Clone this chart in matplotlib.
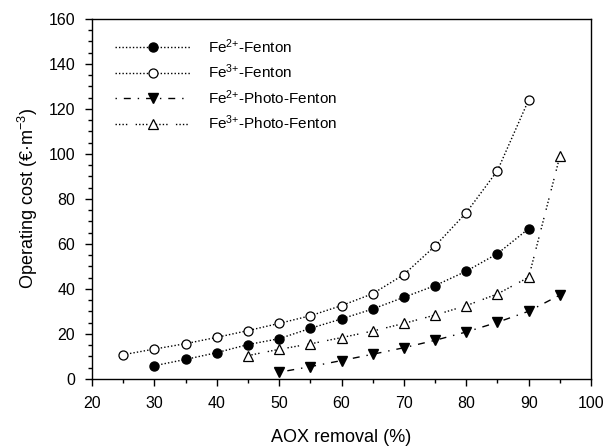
import matplotlib
matplotlib.use('Agg')
from matplotlib import pyplot as plt
from matplotlib.ticker import MultipleLocator

plt.rcParams['font.family'] = ['Liberation Sans', 'DejaVu Sans']
plt.rcParams['mathtext.fontset'] = 'custom'
plt.rcParams['mathtext.rm'] = 'Liberation Sans'
plt.rcParams['mathtext.it'] = 'Liberation Sans'

# AOX removal (%) and operating cost (EUR/m3)
x_fe2_fenton = [30, 35, 40, 45, 50, 55, 60, 65, 70, 75, 80, 85, 90]
y_fe2_fenton = [5.9, 8.7, 11.7, 15.3, 17.9, 22.5, 26.7, 31.1, 36.3, 41.5, 47.9, 55.7, 66.8]

x_fe3_fenton = [25, 30, 35, 40, 45, 50, 55, 60, 65, 70, 75, 80, 85, 90]
y_fe3_fenton = [10.8, 13.3, 15.7, 18.5, 21.5, 24.7, 28.1, 32.6, 37.9, 46.4, 59.1, 73.9, 92.6, 124.0]

x_fe2_photo = [50, 55, 60, 65, 70, 75, 80, 85, 90, 95]
y_fe2_photo = [3.0, 5.5, 8.2, 11.0, 13.9, 17.2, 20.9, 25.2, 30.1, 37.3]

x_fe3_photo = [45, 50, 55, 60, 65, 70, 75, 80, 85, 90, 95]
y_fe3_photo = [10.4, 13.2, 15.6, 18.4, 21.3, 24.7, 28.4, 32.6, 37.8, 45.2, 99.0]

labels = [r'Fe$^{\mathrm{2{+}}}$-Fenton', r'Fe$^{\mathrm{3{+}}}$-Fenton',
          r'Fe$^{\mathrm{2{+}}}$-Photo-Fenton', r'Fe$^{\mathrm{3{+}}}$-Photo-Fenton']

fig = plt.figure(figsize=(6.05, 4.48), dpi=100)
ax = fig.add_axes([0.152, 0.154, 0.825, 0.804])

ax.plot(x_fe2_fenton, y_fe2_fenton, color='black', lw=1, ls=(0, (1, 1.5)),
        marker='o', ms=6.5, mfc='black', mec='black', label=labels[0])
ax.plot(x_fe3_fenton, y_fe3_fenton, color='black', lw=1, ls=(0, (1, 1.5)),
        marker='o', ms=6.5, mfc='white', mec='black', mew=0.9, label=labels[1])
ax.plot(x_fe2_photo, y_fe2_photo, color='black', lw=1, ls=(0, (1, 5, 5, 5)),
        marker='v', ms=7.5, mfc='black', mec='black', label=labels[2])
ax.plot(x_fe3_photo, y_fe3_photo, color='black', lw=1, ls=(0, (1, 1.5, 1, 1.5, 1, 1.5, 1, 6)),
        marker='^', ms=7.5, mfc='white', mec='black', mew=0.9, label=labels[3])

ax.set_xlim(20, 100)
ax.set_ylim(0, 160)
ax.xaxis.set_major_locator(MultipleLocator(10))
ax.xaxis.set_minor_locator(MultipleLocator(5))
ax.yaxis.set_major_locator(MultipleLocator(20))
ax.yaxis.set_minor_locator(MultipleLocator(5))
ax.tick_params(which='major', direction='out', length=5, width=1, labelsize=11.5, pad=7)
ax.tick_params(which='minor', direction='out', length=3, width=1)
for s in ax.spines.values():
    s.set_linewidth(1)

ax.set_xlabel('AOX removal (%)', fontsize=13, labelpad=13)
ax.set_ylabel('Operating cost (€·m$^{\\mathrm{-3}}$)', fontsize=13, labelpad=6)

ax.legend(loc='upper left', bbox_to_anchor=(0.01, 1.0), frameon=False, fontsize=11,
          handlelength=4.9, handletextpad=1.2, labelspacing=0.45, borderaxespad=0.8)

fig.savefig('out.png', dpi=100)
